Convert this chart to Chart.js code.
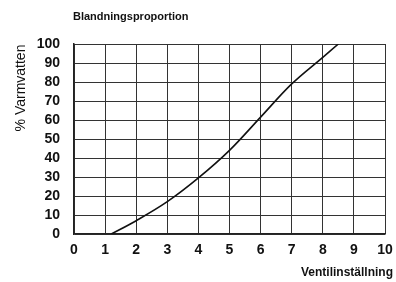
<!DOCTYPE html>
<html>
<head>
<meta charset="utf-8">
<script src="https://cdn.jsdelivr.net/npm/chart.js@4"></script>
<style>
  html, body { margin: 0; padding: 0; background: #fff; }
  #wrap { width: 396px; height: 282px; }
</style>
</head>
<body>
<div id="wrap"><canvas id="chart" width="396" height="282"></canvas></div>
<script>
/* ── Data ─────────────────────────────────────────────────────────────── */
const VALVE_SETTING = [1.2, 2, 3, 4, 5, 6, 7, 8, 8.5];
const HOT_WATER_PCT = [0, 7, 17, 29.5, 44, 61.5, 79, 93, 100];
const X_TICKS = [0, 1, 2, 3, 4, 5, 6, 7, 8, 9, 10];
const Y_TICKS = [0, 10, 20, 30, 40, 50, 60, 70, 80, 90, 100];

const TITLE   = 'Blandningsproportion';
const Y_TITLE = '% Varmvatten';
const X_TITLE = 'Ventilinställning';

const FONT = '"Liberation Sans", Arial, sans-serif';

/* ── Titles drawn around the plot area ─────────────────────────────────── */
const titlesPlugin = {
  id: 'titles',
  afterDraw(chart) {
    const { ctx, chartArea } = chart;
    ctx.save();
    ctx.fillStyle = '#111';
    ctx.textBaseline = 'middle';

    ctx.font = `bold 11px ${FONT}`;
    ctx.textAlign = 'left';
    ctx.fillText(TITLE, chartArea.left - 1, 17);

    ctx.font = `bold 12px ${FONT}`;
    ctx.textAlign = 'right';
    ctx.fillText(X_TITLE, 393, 273);

    ctx.translate(21, 88);
    ctx.rotate(-Math.PI / 2);
    ctx.font = `14px ${FONT}`;
    ctx.textAlign = 'center';
    ctx.fillText(Y_TITLE, 0, 0);
    ctx.restore();
  }
};

/* ── Chart ────────────────────────────────────────────────────────────── */
const ctx = document.getElementById('chart').getContext('2d');
new Chart(ctx, {
  type: 'line',
  data: {
    datasets: [{
      data: VALVE_SETTING.map((x, i) => ({ x, y: HOT_WATER_PCT[i] })),
      borderColor: '#111',
      borderWidth: 1.6,
      pointRadius: 0,
      tension: 0.35,
      fill: false,
    }]
  },
  options: {
    responsive: false,
    animation: false,
    layout: { padding: { top: 44, right: 11, left: 0, bottom: 0 } },
    plugins: {
      legend: { display: false },
      tooltip: { enabled: false },
    },
    scales: {
      x: {
        type: 'linear',
        min: 0,
        max: 10,
        afterBuildTicks: axis => { axis.ticks = X_TICKS.map(value => ({ value })); },
        afterFit: axis => {
          axis.height = 48;
          axis.paddingRight = 0;
          axis.paddingLeft = 0;
        },
        grid: { color: '#333', lineWidth: 1, drawTicks: false },
        border: { color: '#222', width: 1.5 },
        ticks: {
          padding: 8,
          color: '#111',
          autoSkip: false,
          font: { family: FONT, size: 14, weight: 'bold' },
          maxRotation: 0,
        },
      },
      y: {
        min: 0,
        max: 100,
        afterBuildTicks: axis => { axis.ticks = Y_TICKS.map(value => ({ value })); },
        afterFit: axis => {
          axis.width = 74;
          axis.paddingTop = 0;
          axis.paddingBottom = 0;
        },
        grid: { color: '#333', lineWidth: 1, drawTicks: false },
        border: { color: '#222', width: 1.5 },
        ticks: {
          padding: 14,
          color: '#111',
          autoSkip: false,
          font: { family: FONT, size: 14, weight: 'bold' },
        },
      },
    },
  },
  plugins: [titlesPlugin],
});
</script>
</body>
</html>
